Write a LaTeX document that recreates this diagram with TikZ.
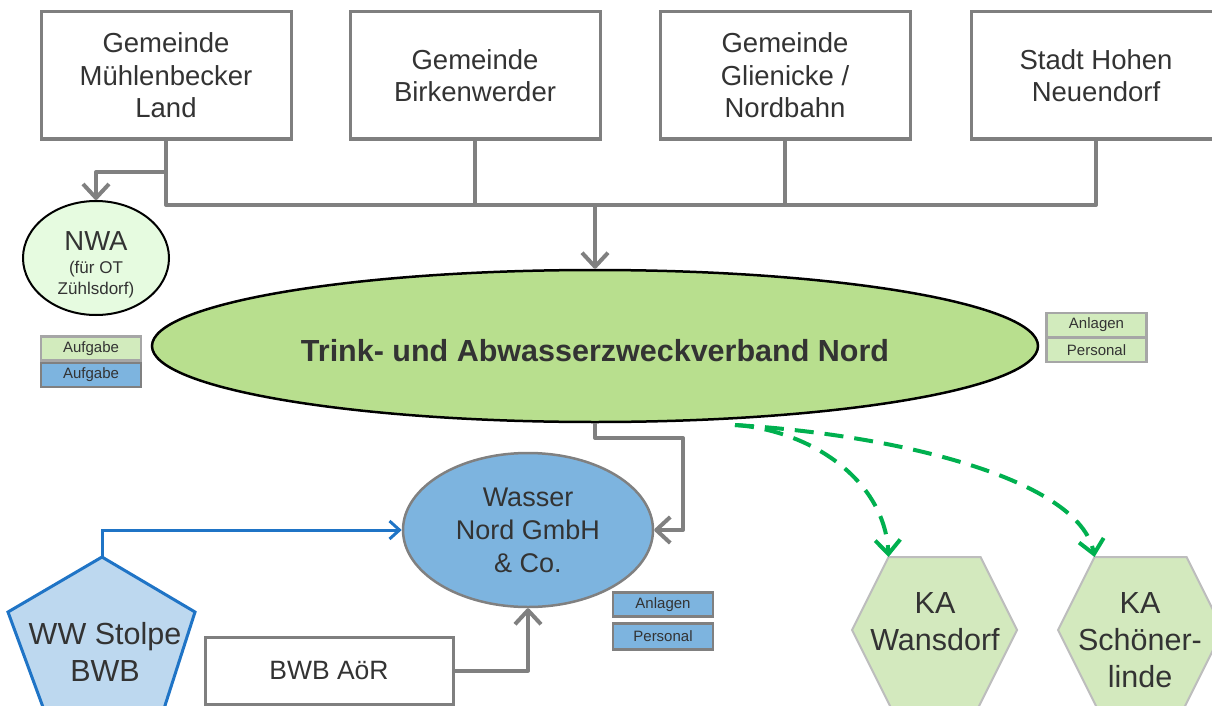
\documentclass[tikz,border=0pt]{standalone}
\usepackage{fontspec}
\setmainfont{Liberation Sans}
\usetikzlibrary{shapes.geometric,arrows.meta}
\definecolor{txt}{HTML}{333333}
\definecolor{lineg}{HTML}{808080}
\definecolor{boxg}{HTML}{7F7F7F}
\definecolor{tavgreen}{HTML}{B8DF8E}
\definecolor{nwagreen}{HTML}{E6FBE0}
\definecolor{legg}{HTML}{D2EBBD}
\definecolor{legb}{HTML}{7DB4DF}
\definecolor{wnoblue}{HTML}{7DB4DF}
\definecolor{wwfill}{HTML}{BDD8EF}
\definecolor{wwline}{HTML}{1F74C6}
\definecolor{kagreen}{HTML}{D3E9BE}
\definecolor{kaline}{HTML}{BDBDBD}
\definecolor{dgreen}{HTML}{00B04F}
\begin{document}
\begin{tikzpicture}[x=1pt,y=-1pt,
  gembox/.style={draw=boxg, line width=3pt, fill=white, minimum width=250pt, minimum height=127pt,
    align=center, text=txt, font=\fontsize{27.5}{32.5}\selectfont, inner sep=0pt},
  conn/.style={draw=lineg, line width=4pt, line join=round},
  garr/.style={-{Straight Barb[length=14pt,width=26pt,line join=round]}},
  blueconn/.style={draw=wwline, line width=3pt, -{Straight Barb[length=10pt,width=18pt]}},
  greenconn/.style={draw=dgreen, line width=4pt, dash pattern=on 19pt off 11pt,
    -{Straight Barb[length=14pt,width=25pt]}},
  legbox/.style={line width=2.5pt, minimum width=100pt, minimum height=24pt, inner sep=0pt,
    font=\fontsize{15}{17}\selectfont, text=txt},
  kahex/.style={fill=kagreen, draw=kaline, line width=2pt},
  katext/.style={align=center, text=txt, font=\fontsize{30.5}{37}\selectfont},
]
\useasboundingbox (0,0) rectangle (1212,706);
\clip (0,0) rectangle (1212,706);

% top boxes
\node[gembox] (b1) at (166,75.5) {Gemeinde\\Mühlenbecker\\Land};
\node[gembox] (b2) at (475,75.5) {Gemeinde\\Birkenwerder};
\node[gembox] (b3) at (785,75.5) {Gemeinde\\Glienicke /\\Nordbahn};
\node[gembox] (b4) at (1096,75.5) {Stadt Hohen\\Neuendorf};

% main ellipse
\node[ellipse, draw=black, line width=2.5pt, fill=tavgreen, minimum width=886pt, minimum height=152pt,
  inner sep=0pt, text=txt, font=\fontsize{30.5}{34}\selectfont\bfseries] (tav) at (595,346)
  {\raisebox{-5pt}[\height][\depth]{Trink- und Abwasserzweckverband Nord}};

% NWA
\node[ellipse, draw=black, line width=2pt, fill=nwagreen, minimum width=146pt, minimum height=114pt,
  inner sep=0pt] (nwa) at (96,258) {};
\node[anchor=base, text=txt, font=\fontsize{27.5}{30}\selectfont, inner sep=0pt] (nwat1) at (96,250) {NWA};
\node[anchor=base, text=txt, font=\fontsize{17}{20}\selectfont, inner sep=0pt] (nwat2) at (96,273) {(für OT};
\node[anchor=base, text=txt, font=\fontsize{17}{20}\selectfont, inner sep=0pt] (nwat3) at (96,294) {Zühlsdorf)};

% legends
\node[legbox, draw=gray!70, fill=legg] (la1) at (91,348.5) {Aufgabe};
\node[legbox, draw=gray, fill=legb] (la2) at (91,375) {Aufgabe};
\node[legbox, draw=gray!70, fill=legg] (lr1) at (1096.5,325) {Anlagen};
\node[legbox, draw=gray!70, fill=legg] (lr2) at (1096.5,350) {Personal};
\node[legbox, draw=gray, fill=legb] (lb1) at (663,604.5) {Anlagen};
\node[legbox, draw=gray, fill=legb, minimum height=26pt] (lb2) at (663,636.5) {Personal};

% Wasser Nord
\node[ellipse, draw=lineg, line width=2.5pt, fill=wnoblue, minimum width=250pt, minimum height=154pt,
  inner sep=0pt, align=center, text=txt, font=\fontsize{27}{33}\selectfont] (wno) at (528,530)
  {Wasser\\Nord GmbH\\\& Co.};

% WW Stolpe pentagon
\coordinate (wwtop) at (102,557);
\draw[fill=wwfill, draw=wwline, line width=3pt, line join=miter]
  (wwtop) -- (195,612) -- (161,718) -- (47,718) -- (8,612) -- cycle;
\node[align=center, text=txt, font=\fontsize{30.5}{37}\selectfont, inner sep=0pt] (ww) at (105,652)
  {WW Stolpe\\BWB};

% BWB AoeR
\node[draw=boxg, line width=3pt, fill=white, minimum width=248pt, minimum height=67pt, inner sep=0pt,
  text=txt, font=\fontsize{26.5}{32}\selectfont] (bwb) at (329,670.5) {BWB AöR};

% KA hexagons
\coordinate (kaw) at (934.5,630);
\coordinate (kas) at (1140.5,630);
\draw[kahex] (kaw) ++(-46,-73) coordinate (kawtl) -- ++(92,0) -- ++(36.5,73) -- ++(-40,80)
  -- ++(-85,0) -- ++(-40,-80) -- cycle;
\draw[kahex] (kas) ++(-46,-73) coordinate (kastl) -- ++(92,0) -- ++(36.5,73) -- ++(-40,80)
  -- ++(-85,0) -- ++(-40,-80) -- cycle;
\node[katext] (kawt) at (935,621.5) {KA\\Wansdorf};
\node[katext] (kast) at (1140,640.5) {KA\\Schöner-\\linde};

% connectors top
\coordinate (bus) at (0,205);
\coordinate (nwabr) at (0,172);
\draw[conn] (b1.south) |- (bus -| b4.south) -- (b4.south);
\draw[conn] (b2.south) -- (b2.south |- bus);
\draw[conn] (b3.south) -- (b3.south |- bus);
\draw[conn, garr] (tav.north |- bus) -- (tav.north);
\draw[conn, garr] (b1.south |- nwabr) -| (nwa.north);

% TAV -> Wasser
\coordinate (k1) at (683,438);
\draw[conn, garr] (tav.south) |- (k1) |- (wno.east);
% BWB -> Wasser
\draw[conn, garr] (bwb.east) -| (wno.south);
% WW -> Wasser
\draw[blueconn] (wwtop) |- (wno.west);

% green dashed
\coordinate (gs) at (735,425);
\draw[greenconn] (gs) .. controls (810,430) and (885,480) .. (kawtl);
\draw[greenconn] (gs) .. controls (900,435) and (1080,480) .. (kastl);
\end{tikzpicture}
\end{document}
